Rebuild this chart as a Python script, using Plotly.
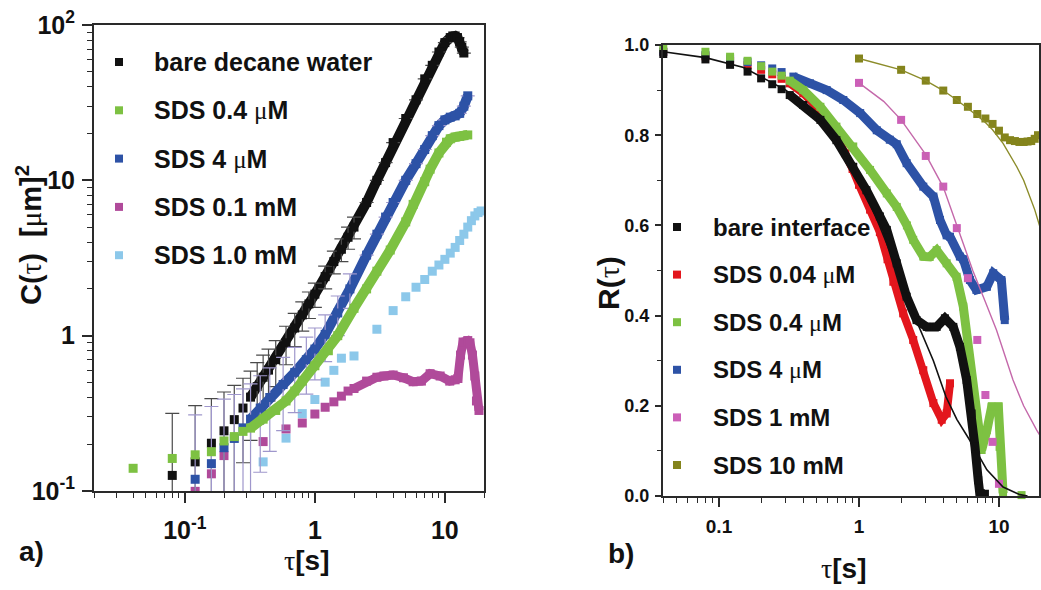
import math
import plotly.graph_objects as go

W, H = 1041, 590

# ---------------- panel a) : C(tau) ----------------
a_bare_t = [0.08, 0.12, 0.16, 0.20, 0.24, 0.28, 0.32, 0.36, 0.40, 0.44, 0.50, 0.60, 0.70, 0.80, 0.90, 1.0,
            1.2, 1.4, 1.6, 1.8, 2.0, 2.5, 3.0, 3.5, 4.0, 5.0, 6.0, 7.0, 8.0, 9.0, 10.0, 11.0, 11.5, 12.0,
            12.5, 13.0, 13.5, 14.0]
a_bare_c = [0.126, 0.154, 0.203, 0.244, 0.288, 0.342, 0.402, 0.47, 0.54, 0.60, 0.70, 0.90, 1.12, 1.36, 1.60,
            1.85, 2.4, 3.0, 3.6, 4.3, 5.0, 7.2, 10.0, 13.0, 17.5, 25.0, 33.0, 45.0, 55.0, 67.0, 77.0, 83.0,
            85.0, 85.0, 83.0, 78.0, 72.0, 66.0]
a_bare_err = [0.19, 0.20, 0.19, 0.19, 0.19, 0.19, 0.19, 0.20, 0.21, 0.22, 0.23, 0.25, 0.27, 0.29, 0.31, 0.33,
              0.40, 0.50, 0.60, 0.70, 0.80, None, None, None, None, None, None, None, None, None, None, None,
              None, None, None, None, None, None]

a_04uM_t = [0.04, 0.08, 0.12, 0.16, 0.20, 0.24, 0.28, 0.32, 0.40, 0.50, 0.60, 0.70, 0.80, 1.0, 1.27, 1.5,
            2.0, 2.5, 3.0, 3.8, 5.0, 5.7, 7.0, 7.7, 9.0, 10.3, 11.0, 12.0, 13.0, 14.0, 15.0]
a_04uM_c = [0.14, 0.162, 0.171, 0.179, 0.21, 0.224, 0.242, 0.254, 0.29, 0.33, 0.38, 0.44, 0.51, 0.64, 0.80,
            1.0, 1.5, 2.0, 2.6, 3.56, 5.4, 7.0, 9.8, 11.8, 15.0, 17.6, 18.5, 19.0, 19.2, 19.4, 19.6]

a_4uM_t = [0.12, 0.16, 0.20, 0.24, 0.28, 0.32, 0.38, 0.45, 0.57, 0.70, 0.86, 1.0, 1.2, 1.5, 1.86, 2.5, 3.0,
           3.5, 4.0, 5.0, 6.0, 7.0, 8.0, 9.0, 10.0, 11.0, 12.0, 13.0, 14.0, 15.0]
a_4uM_c = [0.119, 0.150, 0.19, 0.218, 0.255, 0.29, 0.342, 0.40, 0.485, 0.58, 0.70, 0.82, 1.02, 1.4, 2.0,
           3.3, 4.5, 5.8, 7.2, 10.0, 12.8, 15.8, 19.4, 22.5, 24.5, 25.5, 26.0, 27.0, 30.0, 35.0]
a_4uM_err = [0.19, 0.20, 0.20, 0.20, 0.20, 0.20, 0.21, 0.22, 0.24, 0.26, 0.28, 0.30, 0.34, 0.40, 0.50,
             None, None, None, None, None, None, None, None, None, None, None, None, None, None, None]

a_01mM_t = [0.12, 0.16, 0.20, 0.40, 0.60, 0.80, 1.0, 1.2, 1.4, 1.6, 1.8, 2.0, 2.5, 3.0, 3.4, 4.0, 4.8, 5.7,
            6.6, 7.7, 9.2, 10.9, 12.0, 12.6, 13.2, 13.8, 15.0, 15.6, 16.3, 17.0, 17.5, 18.3]
a_01mM_c = [0.0995, 0.129, 0.169, 0.208, 0.251, 0.274, 0.313, 0.346, 0.375, 0.408, 0.44, 0.457, 0.51, 0.54,
            0.55, 0.558, 0.536, 0.505, 0.51, 0.569, 0.55, 0.51, 0.52, 0.53, 0.75, 0.91, 0.93, 0.90, 0.75,
            0.55, 0.38, 0.33]

a_1mM_t = [0.4, 0.6, 0.8, 1.0, 1.2, 1.4, 1.6, 2.0, 3.0, 4.0, 5.0, 6.0, 7.0, 8.0, 9.0, 10.0, 11.0, 12.0,
           13.0, 14.0, 15.0, 16.0, 17.0, 18.0, 19.0]
a_1mM_c = [0.154, 0.219, 0.315, 0.388, 0.502, 0.598, 0.716, 0.74, 1.10, 1.45, 1.78, 2.05, 2.3, 2.6, 2.85,
           3.1, 3.4, 3.7, 4.1, 4.5, 5.0, 5.5, 5.9, 6.2, 6.35]

a_labels = ["bare decane water", "SDS 0.4 <MU>M", "SDS 4 <MU>M", "SDS 0.1 mM", "SDS 1.0 mM"]
a_xtick_vals = [0.1, 1, 10]
a_xtick_text = ["10<sup>-1</sup>", "1", "10"]
a_ytick_vals = [0.1, 1, 10, 100]
a_ytick_text = ["10<sup>-1</sup>", "1", "10", "10<sup>2</sup>"]

# ---------------- panel b) : R(tau) ----------------
b_bare_t = [0.04, 0.08, 0.12, 0.16, 0.20, 0.24, 0.28, 0.32, 0.40, 0.53, 0.69, 0.91, 1.13, 1.41, 1.58, 1.86,
            2.19, 2.58, 3.05, 3.59, 4.11, 4.72, 5.26, 5.88, 6.38, 6.74, 7.11, 7.3, 7.94]
b_bare_r = [0.98, 0.968, 0.956, 0.941, 0.926, 0.913, 0.902, 0.889, 0.867, 0.834, 0.789, 0.73, 0.678, 0.62,
            0.59, 0.516, 0.442, 0.39, 0.375, 0.375, 0.394, 0.375, 0.331, 0.257, 0.183, 0.109, 0.035, 0.005,
            0.005]

b_004_t = [0.04, 0.08, 0.12, 0.16, 0.20, 0.24, 0.28, 0.32, 0.40, 0.50, 0.60, 0.70, 0.80, 0.90, 1.0, 1.2,
           1.41, 1.6, 1.76, 2.07, 2.44, 2.88, 3.4, 3.9, 4.23, 4.47]
b_004_r = [0.985, 0.975, 0.965, 0.955, 0.945, 0.935, 0.925, 0.915, 0.893, 0.862, 0.83, 0.795, 0.76, 0.725,
           0.69, 0.635, 0.585, 0.525, 0.475, 0.405, 0.346, 0.279, 0.206, 0.169, 0.183, 0.25]

b_04_t = [0.04, 0.08, 0.12, 0.16, 0.20, 0.24, 0.28, 0.32, 0.40, 0.53, 0.69, 0.91, 1.2, 1.58, 1.86, 2.2,
          2.44, 2.88, 3.2, 3.59, 4.23, 4.98, 5.56, 6.2, 6.9, 7.52, 8.2, 8.87, 9.9, 10.1, 10.7, None, 14.5]
b_04_r = [0.993, 0.985, 0.974, 0.965, 0.953, 0.941, 0.932, 0.921, 0.90, 0.863, 0.819, 0.775, 0.723, 0.671,
          0.641, 0.60, 0.568, 0.531, 0.53, 0.545, 0.516, 0.486, 0.42, 0.294, 0.183, 0.102, 0.146, 0.198,
          0.198, 0.109, 0.006, None, 0.002]

b_4_t = [0.04, 0.08, 0.12, 0.16, 0.20, 0.24, 0.28, 0.34, 0.447, 0.588, 0.773, 1.02, 1.34, 1.66, 1.86, 2.19,
         2.88, 3.4, 3.79, 4.23, 4.47, 5.26, 5.56, 6.2, 6.9, 8.2, 9.1, 10.4, 11.0]
b_4_r = [0.985, 0.978, 0.97, 0.962, 0.955, 0.948, 0.94, 0.93, 0.915, 0.90, 0.878, 0.849, 0.811, 0.79, 0.78,
         0.738, 0.686, 0.664, 0.612, 0.578, 0.575, 0.531, 0.525, 0.479, 0.457, 0.464, 0.494, 0.479, 0.39]

b_1mM_t = [1, 2, 3, 4, 5, 6, 7, 8, 9, 10]
b_1mM_r = [0.916, 0.834, 0.754, 0.686, 0.594, 0.483, 0.346, 0.224, 0.12, 0.027]

b_10mM_t = [1, 2, 3, 4, 5, 6, 7, 8, 9, 10, 11, 12, 13, 14, 15, 16, 17, 18, 19]
b_10mM_r = [0.97, 0.945, 0.921, 0.899, 0.878, 0.863, 0.847, 0.837, 0.825, 0.81, 0.795, 0.789, 0.787, 0.785,
            0.785, 0.786, 0.787, 0.792, 0.80]

b_bare_fit_t = [0.04, 0.08, 0.15, 0.3, 0.5, 0.7, 1.0, 1.4, 2.0, 2.65, 3.4, 4.18, 5.0, 6.38, 8.2, 10.7, 14.1, 16.0]
b_bare_fit_r = [0.985, 0.972, 0.95, 0.90, 0.845, 0.79, 0.705, 0.60, 0.48, 0.379, 0.30, 0.22, 0.17, 0.117,
                0.058, 0.02, 0.003, 0.0]
b_1mM_fit_t = [1.0, 1.5, 2.0, 3.0, 4.0, 5.12, 6.5, 8.0, 9.6, 12.6, 15.0, 18.6, 20.0]
b_1mM_fit_r = [0.916, 0.875, 0.834, 0.757, 0.685, 0.59, 0.50, 0.43, 0.368, 0.257, 0.20, 0.146, 0.13]
b_10mM_fit_t = [1.0, 2.0, 3.0, 4.0, 5.0, 6.0, 7.0, 8.0, 9.0, 10.7, 12.0, 13.4, 15.0, 16.6, 18.0, 19.6]
b_10mM_fit_r = [0.97, 0.945, 0.921, 0.899, 0.878, 0.86, 0.843, 0.828, 0.812, 0.782, 0.757, 0.73, 0.70,
                0.664, 0.635, 0.597]

b_labels = ["bare interface", "SDS 0.04 <MU>M", "SDS 0.4 <MU>M", "SDS 4 <MU>M", "SDS 1 mM", "SDS 10 mM"]
b_xtick_vals = [0.1, 1, 10]
b_xtick_text = ["0.1", "1", "10"]
b_ytick_vals = [0.0, 0.2, 0.4, 0.6, 0.8, 1.0]
b_ytick_text = ["0.0", "0.2", "0.4", "0.6", "0.8", "1.0"]

# ---------------- styles ----------------
C_BLACK = "#111111"
C_GREEN = "#7dc142"
C_BLUE = "#2d52a6"
C_MAG = "#b04a9a"
C_LBLUE = "#8cc8ea"
C_RED = "#e3161d"
C_PINK = "#cc5fb8"
C_OLIVE = "#84841c"
AX = "#2a2a2a"
FONT = "Liberation Sans, Arial, sans-serif"
GREEK = "<span style='font-family:Liberation Serif;font-weight:normal'>%s</span>"
MU = GREEK % "\u03bc"
TAU = GREEK % "\u03c4"

fig = go.Figure()


def band(t, v, start, color, width, xa, ya):
    fig.add_trace(go.Scatter(x=t[start:], y=v[start:], mode="lines", xaxis=xa, yaxis=ya,
                             line=dict(color=color, width=width), hoverinfo="skip", showlegend=False))


def pts(t, v, color, size, xa, ya, err=None, errcolor=None, clip=True):
    kw = {}
    if err is not None:
        kw["error_y"] = dict(type="data", array=err, symmetric=True, color=errcolor, thickness=1.2, width=7)
    fig.add_trace(go.Scatter(x=t, y=v, mode="markers", xaxis=xa, yaxis=ya, cliponaxis=clip,
                             marker=dict(symbol="square", size=size, color=color, line=dict(width=0)),
                             showlegend=False, **kw))


def fitline(t, v, color, width, xa, ya):
    fig.add_trace(go.Scatter(x=t, y=v, mode="lines", xaxis=xa, yaxis=ya,
                             line=dict(color=color, width=width), showlegend=False))


# panel a traces
pts(a_1mM_t, a_1mM_c, C_LBLUE, 9, "x", "y")
band(a_01mM_t, a_01mM_c, 11, C_MAG, 9, "x", "y")
pts(a_01mM_t, a_01mM_c, C_MAG, 9, "x", "y")
band(a_bare_t, a_bare_c, 6, C_BLACK, 10, "x", "y")
pts(a_bare_t, a_bare_c, C_BLACK, 9, "x", "y", a_bare_err, "#4a4a4a")
band(a_4uM_t, a_4uM_c, 5, C_BLUE, 10, "x", "y")
pts(a_4uM_t, a_4uM_c, C_BLUE, 9, "x", "y", a_4uM_err, "#9f97cc")
band(a_04uM_t, a_04uM_c, 7, C_GREEN, 10, "x", "y")
pts(a_04uM_t, a_04uM_c, C_GREEN, 9, "x", "y")

# panel b traces
band(b_004_t, b_004_r, 7, C_RED, 8, "x2", "y2")
pts(b_004_t, b_004_r, C_RED, 8, "x2", "y2", clip=False)
band(b_4_t, b_4_r, 7, C_BLUE, 9, "x2", "y2")
pts(b_4_t, b_4_r, C_BLUE, 8, "x2", "y2", clip=False)
band(b_04_t, b_04_r, 7, C_GREEN, 9, "x2", "y2")
pts(b_04_t, b_04_r, C_GREEN, 8, "x2", "y2", clip=False)
band(b_bare_t, b_bare_r, 7, C_BLACK, 9, "x2", "y2")
pts(b_bare_t, b_bare_r, C_BLACK, 8, "x2", "y2", clip=False)
pts(b_1mM_t, b_1mM_r, C_PINK, 8, "x2", "y2", clip=False)
pts(b_10mM_t, b_10mM_r, C_OLIVE, 8, "x2", "y2", clip=False)
fitline(b_bare_fit_t, b_bare_fit_r, C_BLACK, 1.6, "x2", "y2")
fitline(b_1mM_fit_t, b_1mM_fit_r, "#c468aa", 1.4, "x2", "y2")
fitline(b_10mM_fit_t, b_10mM_fit_r, "#8c8c2a", 1.4, "x2", "y2")

# ---------------- axes ----------------
def px(x):
    return x / W


def py(y):
    return 1 - y / H


a_dom_x = [px(94), px(484)]
a_dom_y = [py(491), py(25)]
b_dom_x = [px(663), px(1039)]
b_dom_y = [py(496), py(45)]
a_xrange = [math.log10(0.02), math.log10(20)]
a_yrange = [-1, 2]
b_xrange = [-1.4, 1.286]
b_yrange = [0, 1]

dec = [2, 3, 4, 5, 6, 7, 8, 9]
a_xminor = [m * 10.0 ** e for e in (-2, -1, 0, 1) for m in dec]
a_yminor = [m * 10.0 ** e for e in (-1, 0, 1) for m in dec]
b_xminor = a_xminor
b_yminor = [0.1, 0.3, 0.5, 0.7, 0.9]


def main_axis(dom, rng, vals, text, minor, anchor, typ, fsize, ticklen, mlen, standoff):
    return dict(domain=dom, range=rng, type=typ, anchor=anchor, automargin=False, tickmode="array",
                tickvals=vals, ticktext=text, ticks="outside", ticklen=ticklen, tickwidth=1.6, tickcolor=AX,
                showline=True, linecolor=AX, linewidth=2, mirror=True, showgrid=False, zeroline=False,
                ticklabelstandoff=standoff,
                tickfont=dict(family=FONT, size=fsize, color="#111111", weight="bold"),
                minor=dict(tickmode="array", tickvals=minor, ticks="outside", ticklen=mlen,
                           tickwidth=1.3, tickcolor=AX, showgrid=False))


def mirror_axis(over, side, anchor, rng, vals, minor, typ, ticklen, mlen):
    return dict(overlaying=over, side=side, anchor=anchor, range=rng, type=typ, automargin=False,
                tickmode="array", tickvals=vals, ticks="inside", ticklen=ticklen, tickwidth=1.6,
                tickcolor=AX, showticklabels=False, showline=False, showgrid=False, zeroline=False,
                minor=dict(tickmode="array", tickvals=minor, ticks="inside", ticklen=mlen,
                           tickwidth=1.3, tickcolor=AX, showgrid=False))


fig.update_layout(
    width=W, height=H, margin=dict(l=0, r=0, t=0, b=0, autoexpand=False), paper_bgcolor="white",
    plot_bgcolor="white", showlegend=False,
    xaxis=main_axis(a_dom_x, a_xrange, a_xtick_vals, a_xtick_text, a_xminor, "y", "log", 25, 10, 5, 6),
    yaxis=main_axis(a_dom_y, a_yrange, a_ytick_vals, a_ytick_text, a_yminor, "x", "log", 25, 10, 5, 2),
    xaxis2=main_axis(b_dom_x, b_xrange, b_xtick_vals, b_xtick_text, b_xminor, "y2", "log", 19, 9, 5, 3),
    yaxis2=main_axis(b_dom_y, b_yrange, b_ytick_vals, b_ytick_text, b_yminor, "x2", "linear", 18, 6, 4, 2),
    xaxis3=mirror_axis("x", "top", "y", a_xrange, a_xtick_vals, a_xminor, "log", 9, 5),
    yaxis3=mirror_axis("y", "right", "x", a_yrange, a_ytick_vals, a_yminor, "log", 9, 5),
    xaxis4=mirror_axis("x2", "top", "y2", b_xrange, b_xtick_vals, b_xminor, "log", 9, 5),
    yaxis4=mirror_axis("y2", "right", "x2", b_yrange, b_ytick_vals, b_yminor, "linear", 8, 4),
)

# ---------------- legends (drawn as key squares + text) ----------------
shapes = []
annotations = []


def key(xc, yc, size, color, label, tx, fsize):
    shapes.append(dict(type="rect", xref="paper", yref="paper", x0=px(xc - size / 2), x1=px(xc + size / 2),
                       y0=py(yc + size / 2), y1=py(yc - size / 2), fillcolor=color, line=dict(width=0)))
    annotations.append(dict(xref="paper", yref="paper", x=px(tx), y=py(yc), xanchor="left", yanchor="middle",
                            text=label.replace("<MU>", MU), showarrow=False,
                            font=dict(family=FONT, size=fsize, color="#111111", weight="bold")))


a_colors = [C_BLACK, C_GREEN, C_BLUE, C_MAG, C_LBLUE]
for i, (lab, col) in enumerate(zip(a_labels, a_colors)):
    key(119, 62 + i * 48.3, 8, col, lab, 152, 25)

b_colors = [C_BLACK, C_RED, C_GREEN, C_BLUE, C_PINK, C_OLIVE]
for i, (lab, col) in enumerate(zip(b_labels, b_colors)):
    key(677, 227 + i * 47.6, 8, col, lab, 711, 24)


def text(x, y, s, size, angle=0):
    annotations.append(dict(xref="paper", yref="paper", x=px(x), y=py(y), xanchor="center", yanchor="middle",
                            text=s, showarrow=False, textangle=angle,
                            font=dict(family=FONT, size=size, color="#111111", weight="bold")))


text(29, 235, "C(" + TAU + ")  [" + MU + "m]<sup>2</sup>", 29, -90)
text(307, 560, TAU + "[s]", 28)
text(31, 551, "a)", 28)
text(608, 283, "R(" + TAU + ")", 30, -90)
text(844, 568, TAU + "[s]", 28)
text(621, 553, "b)", 28)

fig.update_layout(shapes=shapes, annotations=annotations)

fig.write_html("out.html")
